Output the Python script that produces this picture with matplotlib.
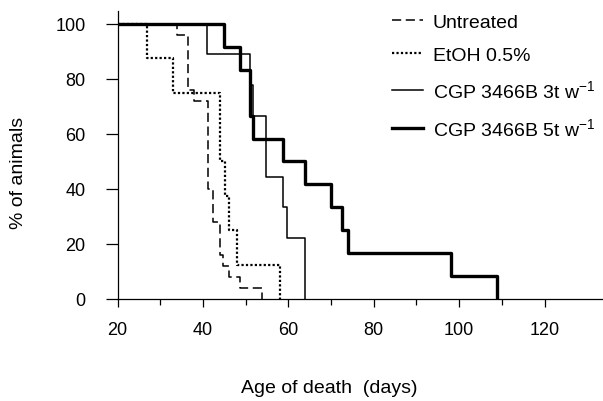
import matplotlib
matplotlib.use("Agg")
import matplotlib.pyplot as plt

plt.rcParams['font.family'] = ['Liberation Sans', 'DejaVu Sans']
plt.rcParams['mathtext.fontset'] = 'custom'
plt.rcParams['mathtext.rm'] = 'Liberation Sans'
plt.rcParams['mathtext.it'] = 'Liberation Sans'

# survival curves (age in days, % alive)
untreated_t = [20, 34, 36.5, 38, 41.2, 42.4, 44, 44.8, 46, 48.7, 53.8]
untreated_s = [100, 96, 76, 72, 40, 28, 16, 12, 8, 4, 0]

etoh_t = [20, 26.8, 32.9, 44, 45.2, 46, 47.9, 58]
etoh_s = [100, 87.5, 75, 50, 37.5, 25, 12.5, 0]

cgp3_t = [20, 41, 51, 51.8, 54.8, 58.8, 59.6, 63.8]
cgp3_s = [100, 88.9, 77.8, 66.7, 44.4, 33.3, 22.2, 0]

cgp5_t = [20, 44.9, 48.7, 50.9, 51.8, 58.8, 63.9, 70, 72.5, 74, 98.1, 108.8]
cgp5_s = [100, 91.7, 83.3, 66.7, 58.3, 50, 41.7, 33.3, 25, 16.7, 8.3, 0]

labels = ['Untreated', 'EtOH 0.5%',
          r'CGP 3466B 3t w$^{-1}$', r'CGP 3466B 5t w$^{-1}$']

x_major = [20, 40, 60, 80, 100, 120]
x_minor = [30, 50, 70, 90, 110]
y_ticks = [0, 20, 40, 60, 80, 100]

fig = plt.figure(figsize=(6.03, 4.02), dpi=100)
ax = fig.add_axes([0.195, 0.254, 0.805, 0.716])

ax.step(untreated_t, untreated_s, where='post', color='black',
        lw=1.1, dashes=(6, 3), label=labels[0])
ax.step(etoh_t, etoh_s, where='post', color='black',
        lw=1.6, linestyle=(0, (1, 1)), label=labels[1])
ax.step(cgp3_t, cgp3_s, where='post', color='black',
        lw=1.1, label=labels[2])
ax.step(cgp5_t, cgp5_s, where='post', color='black',
        lw=2.4, label=labels[3])

ax.set_xlim(20, 133.7)
ax.set_ylim(0, 104.7)
ax.set_xticks(x_major)
ax.set_xticks(x_minor, minor=True)
ax.set_yticks(y_ticks)

for s in ['top', 'right']:
    ax.spines[s].set_visible(False)
for s in ['left', 'bottom']:
    ax.spines[s].set_linewidth(0.9)

ax.tick_params(axis='y', length=9, width=0.9, pad=14, labelsize=13)
ax.tick_params(axis='x', which='major', length=6, width=0.9, pad=10,
               labelsize=13)
ax.tick_params(axis='x', which='minor', length=4, width=0.9)

fig.text(19 / 603, 1 - 173 / 402, '% of animals', rotation=90,
         ha='center', va='center', fontsize=14)
fig.text(329 / 603, 1 - 389 / 402, 'Age of death  (days)',
         ha='center', va='center', fontsize=14)

ax.legend(loc='upper left', bbox_to_anchor=(392 / 603, 1 - 14 / 402),
          bbox_transform=fig.transFigure, frameon=False, fontsize=14,
          handlelength=1.6, handletextpad=0.5, labelspacing=0.8,
          borderpad=0, borderaxespad=0)

fig.savefig('out.png', dpi=100)
